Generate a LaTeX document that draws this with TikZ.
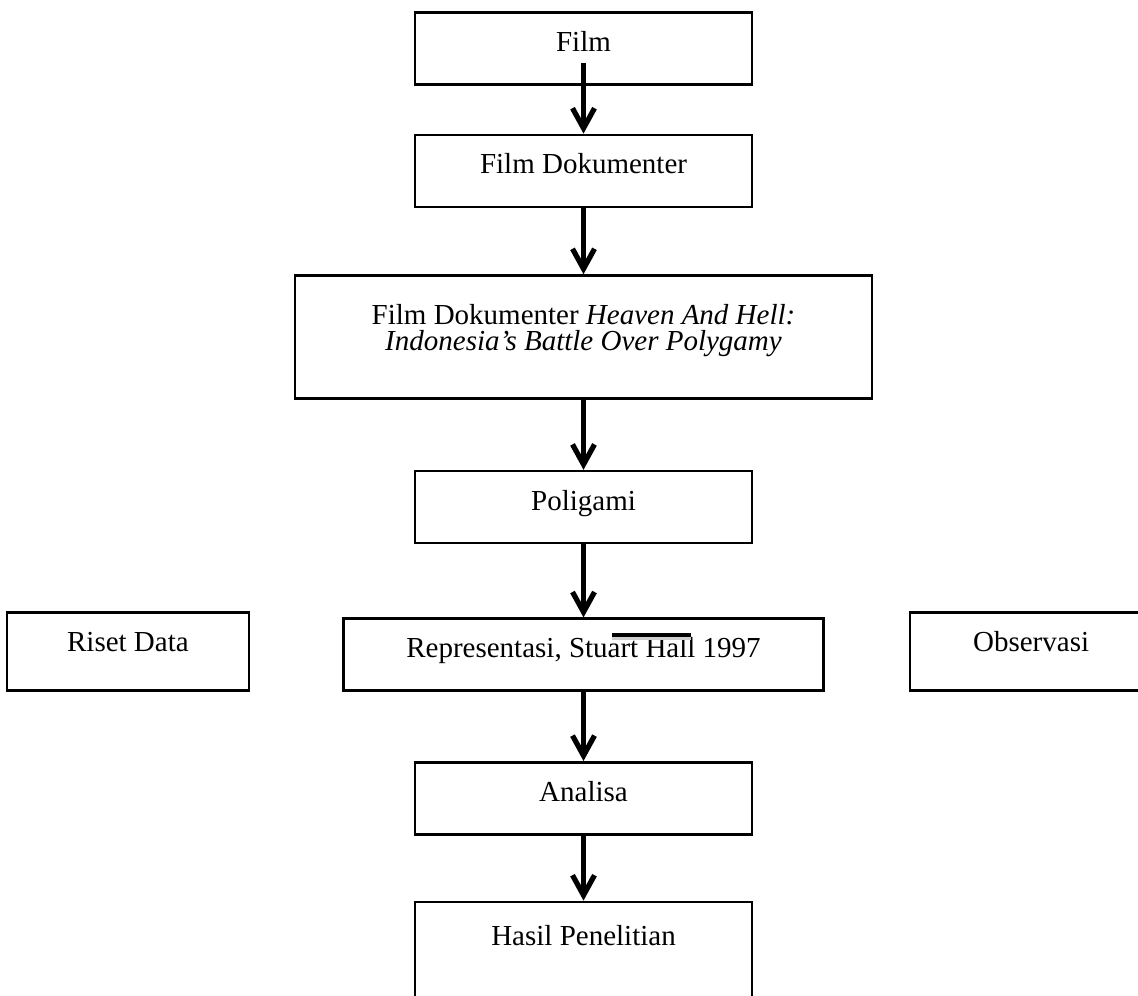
\documentclass[tikz,border=0pt]{standalone}
\usepackage{fontspec}
\setmainfont{Liberation Serif}
\usetikzlibrary{arrows.meta,positioning}

\begin{document}
\begin{tikzpicture}[>={Straight Barb[length=10pt,width=11pt,line width=2.6pt]}, every node/.style={font=\fontsize{14.5}{13}\selectfont},
  box/.style={draw, line width=1.3pt, align=center, inner xsep=0pt, inner ysep=0pt, text height=19.5pt, text depth=16.5pt, minimum width=168.5pt},
  wide/.style={box, minimum width=288.5pt, text height=37.5pt, text depth=24pt},
  side/.style={box, minimum width=121pt, text height=19.5pt, text depth=19.5pt},
  arr/.style={->, line width=2.2pt}]
  \useasboundingbox (0,0) rectangle (569pt,-497.5pt);
  \node[box, anchor=north] (film) at (291.75pt,-5.5pt) {Film};
  \node[box, below=24pt of film] (dok) {Film Dokumenter};
  \node[wide, below=33pt of dok] (judul) {Film Dokumenter \textit{Heaven And Hell:}\\\textit{Indonesia’s Battle Over Polygamy}};
  \node[box, below=35pt of judul] (poligami) {Poligami};
  \node[box, minimum width=240pt, below=36.5pt of poligami] (repr) {Representasi, Stuart Hall 1997};
  \node[side, left=46pt of repr, yshift=1.5pt] (riset) {Riset Data};
  \node[side, right=42pt of repr, yshift=1.5pt] (obs) {Observasi};
  \node[box, below=34.5pt of repr] (analisa) {Analisa};
  \node[box, below=32.5pt of analisa, text height=22pt, text depth=40pt] (hasil) {Hasil Penelitian};
  % garis di atas "Hall"
  \fill[gray!40] ([xshift=135pt,yshift=-10pt]repr.north west) rectangle ([xshift=174.5pt,yshift=-11.5pt]repr.north west);
  \fill ([xshift=135pt,yshift=-8pt]repr.north west) rectangle ([xshift=174.5pt,yshift=-10pt]repr.north west);
  \draw[arr] ([yshift=11.5pt]film.south) -- (dok.north);
  \draw[arr] (dok.south) -- (judul.north);
  \draw[arr] (judul.south) -- (poligami.north);
  \draw[arr] (poligami.south) -- (repr.north);
  \draw[arr] (repr.south) -- (analisa.north);
  \draw[arr] (analisa.south) -- (hasil.north);
\end{tikzpicture}
\end{document}
